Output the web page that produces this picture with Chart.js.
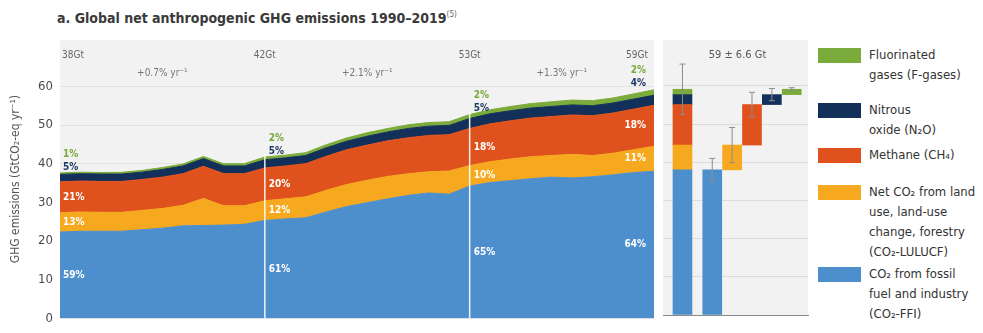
<!DOCTYPE html>
<html lang="en">
<head>
<meta charset="UTF-8" />
<title>Global net anthropogenic GHG emissions 1990–2019</title>
<script src="https://cdn.jsdelivr.net/npm/chart.js"></script>
<style>
    body {
        margin: 0;
        width: 983px;
        height: 333px;
        position: relative;
        overflow: hidden;
        background: #fff;
        font-family: "Liberation Sans Narrow", "DejaVu Sans Condensed", sans-serif;
        color: #333;
    }
    #titulo {
        position: absolute;
        left: 57px;
        top: 10px;
        font-size: 14px;
        font-weight: bold;
        color: #3a3a3a;
        white-space: nowrap;
    }
    #titulo sup { font-size: 8px; font-weight: normal; color: #666; }
    #grafico-area { position: absolute; left: 0; top: 0; }
    #grafico-barras { position: absolute; left: 660px; top: 0; }
    #legenda { position: absolute; left: 818px; top: 0; }
    .item { position: absolute; left: 0; width: 165px; }
    .amostra { position: absolute; left: 0; top: 3px; width: 43px; height: 15px; }
    .texto {
        position: absolute;
        left: 51px;
        top: 0;
        font-size: 13px;
        line-height: 20px;
        white-space: pre;
        color: #333;
    }
</style>
</head>
<body>
<div id="titulo">a. Global net anthropogenic GHG emissions 1990–2019<sup>(5)</sup></div>
<canvas id="grafico-area" width="658" height="333"></canvas>
<canvas id="grafico-barras" width="152" height="333"></canvas>
<div id="legenda"></div>

<script>
    // annual emissions, GtCO2-eq per year
    const years = [1990, 1991, 1992, 1993, 1994, 1995, 1996, 1997, 1998, 1999,
                   2000, 2001, 2002, 2003, 2004, 2005, 2006, 2007, 2008, 2009,
                   2010, 2011, 2012, 2013, 2014, 2015, 2016, 2017, 2018, 2019];
    const co2Ffi = [22.3, 22.5, 22.5, 22.5, 22.9, 23.3, 23.9, 24.0, 24.1, 24.3,
                    25.3, 25.7, 26.0, 27.5, 28.9, 29.9, 30.9, 31.8, 32.4, 32.1,
                    34.2, 35.1, 35.6, 36.1, 36.5, 36.3, 36.6, 37.1, 37.7, 38.0];
    const co2Lulucf = [5.0, 5.0, 4.9, 4.9, 5.0, 5.1, 5.3, 7.0, 5.0, 4.8,
                       5.1, 5.2, 5.4, 5.6, 5.7, 5.8, 5.8, 5.6, 5.5, 6.0,
                       5.3, 5.4, 5.6, 5.7, 5.6, 6.1, 5.5, 5.6, 5.9, 6.5];
    const ch4 = [8.0, 8.0, 8.0, 8.0, 8.0, 8.1, 8.2, 8.3, 8.3, 8.3,
                 8.5, 8.5, 8.6, 8.8, 9.0, 9.1, 9.2, 9.3, 9.4, 9.4,
                 9.6, 9.8, 9.9, 10.0, 10.1, 10.2, 10.3, 10.4, 10.5, 10.6];
    const n2o = [1.9, 1.9, 1.9, 1.9, 1.9, 2.0, 2.0, 2.0, 2.0, 2.0,
                 2.1, 2.1, 2.1, 2.2, 2.2, 2.3, 2.3, 2.4, 2.4, 2.4,
                 2.6, 2.6, 2.6, 2.6, 2.6, 2.6, 2.6, 2.6, 2.6, 2.6];
    const fGases = [0.4, 0.4, 0.4, 0.45, 0.45, 0.5, 0.5, 0.55, 0.55, 0.6,
                    0.7, 0.7, 0.75, 0.8, 0.85, 0.9, 0.9, 0.95, 0.95, 0.95,
                    1.0, 1.05, 1.1, 1.15, 1.2, 1.25, 1.3, 1.3, 1.35, 1.4];

    const yTicks = [0, 10, 20, 30, 40, 50, 60];
    const markerYears = [1990, 2000, 2010, 2019];
    const growthLabels = ['+0.7% yr⁻¹', '+2.1% yr⁻¹', '+1.3% yr⁻¹'];

    // 2019 uncertainty (90% range), same order as the gases below
    const uncert2019 = [3.0, 4.6, 3.2, 1.6, 0.41];
    const totalUncert2019 = 6.6;

    const gases = [
        { nome: 'CO₂ from fossil\nfuel and industry\n(CO₂-FFI)', dados: co2Ffi, cor: '#4d8fcc', txt: '#fff' },
        { nome: 'Net CO₂ from land\nuse, land-use\nchange, forestry\n(CO₂-LULUCF)', dados: co2Lulucf, cor: '#f6a81e', txt: '#fff' },
        { nome: 'Methane (CH₄)', dados: ch4, cor: '#e0521d', txt: '#fff' },
        { nome: 'Nitrous\noxide (N₂O)', dados: n2o, cor: '#13305a', txt: '#1d3a66' },
        { nome: 'Fluorinated\ngases (F-gases)', dados: fGases, cor: '#7bab3a', txt: '#76a83a' }
    ];

    const totais = years.map((_, i) => gases.reduce((s, g) => s + g.dados[i], 0));
    const FONTE = '"Liberation Sans Narrow", "DejaVu Sans Condensed", sans-serif';
    Chart.defaults.font.family = FONTE;

    const fundo = {
        id: 'fundo',
        beforeDraw(chart) {
            const { ctx, chartArea: a } = chart;
            ctx.save();
            ctx.fillStyle = '#f2f2f2';
            ctx.fillRect(a.left, a.top, a.right - a.left, a.bottom - a.top);
            ctx.restore();
        }
    };

    // year markers, totals, growth rates and shares
    const rotulos = {
        id: 'rotulos',
        afterDatasetsDraw(chart) {
            const { ctx, chartArea: a, scales: { x, y } } = chart;
            ctx.save();
            markerYears.slice(1, -1).forEach(ano => {
                const i = years.indexOf(ano);
                const px = x.getPixelForValue(i);
                ctx.strokeStyle = 'rgba(255,255,255,0.9)';
                ctx.lineWidth = 1.5;
                ctx.beginPath();
                ctx.moveTo(px, y.getPixelForValue(totais[i]) - 3);
                ctx.lineTo(px, a.bottom);
                ctx.stroke();
            });

            ctx.textBaseline = 'middle';
            markerYears.forEach((ano, k) => {
                const i = years.indexOf(ano);
                const px = x.getPixelForValue(i);
                const ultimo = k === markerYears.length - 1;
                const alinhar = k === 0 ? 'left' : (ultimo ? 'right' : 'center');
                ctx.font = '10px ' + FONTE;
                ctx.fillStyle = '#666';
                ctx.textAlign = alinhar;
                ctx.fillText(Math.round(totais[i]) + 'Gt', px + (k === 0 ? 2 : (ultimo ? -6 : 0)), 55);

                ctx.font = 'bold 10px ' + FONTE;
                ctx.textAlign = ultimo ? 'right' : 'left';
                const lx = px + (k === 0 ? 3 : (ultimo ? -8 : 4));
                let base = 0;
                gases.forEach((g, j) => {
                    const v = g.dados[i];
                    const pct = Math.round(v / totais[i] * 100) + '%';
                    let ly;
                    if (j < 3) {
                        ly = y.getPixelForValue(base + v / 2);
                    } else {
                        ly = y.getPixelForValue(totais[i]) - (j === 3 ? 6 : 19);
                    }
                    ctx.fillStyle = g.txt;
                    ctx.fillText(pct, lx, ly);
                    base += v;
                });
            });

            ctx.font = '10px ' + FONTE;
            ctx.fillStyle = '#777';
            ctx.textAlign = 'center';
            growthLabels.forEach((t, k) => {
                const i0 = years.indexOf(markerYears[k]);
                const i1 = years.indexOf(markerYears[k + 1]);
                const px = (x.getPixelForValue(i0) + x.getPixelForValue(i1)) / 2;
                ctx.fillText(t, px, 73);
            });
            ctx.restore();
        }
    };

    new Chart(document.getElementById('grafico-area'), {
        type: 'line',
        data: {
            labels: years,
            datasets: gases.map((g, j) => ({
                label: g.nome,
                data: g.dados,
                backgroundColor: g.cor,
                borderColor: g.cor,
                borderWidth: 1,
                pointRadius: 0,
                fill: j === 0 ? 'origin' : '-1'
            }))
        },
        options: {
            responsive: false,
            animation: false,
            layout: { padding: { top: 40, right: 4, bottom: 10, left: 0 } },
            plugins: { legend: { display: false }, tooltip: { enabled: false } },
            scales: {
                x: { display: false, offset: false },
                y: {
                    stacked: true,
                    min: 0,
                    max: 72,
                    afterBuildTicks: s => { s.ticks = yTicks.map(v => ({ value: v })); },
                    afterFit: s => { s.width = 60; },
                    grid: { color: '#e2e2e2', drawTicks: false },
                    border: { display: false },
                    ticks: { color: '#4a4a4a', font: { size: 13 }, padding: 7 },
                    title: {
                        display: true,
                        text: 'GHG emissions (GtCO₂-eq yr⁻¹)',
                        color: '#555',
                        font: { size: 12 },
                        padding: { top: 9, bottom: 0 }
                    }
                }
            }
        },
        plugins: [fundo, rotulos]
    });

    // 2019 breakdown: stacked total, then each gas as a floating step
    const ult = years.length - 1;
    const total2019 = totais[ult];
    const posicao = k => (k === 0 ? 0 : k + 0.5);
    let acumulado = 0;
    const passos = gases.map(g => {
        const de = acumulado;
        acumulado += g.dados[ult];
        return [de, acumulado];
    });

    const barrasErro = {
        id: 'barrasErro',
        afterDatasetsDraw(chart) {
            const { ctx, chartArea: a, scales: { x, y } } = chart;
            const whisker = (cx, v, e) => {
                const y0 = y.getPixelForValue(v - e), y1 = y.getPixelForValue(v + e);
                ctx.beginPath();
                ctx.moveTo(cx, y0); ctx.lineTo(cx, y1);
                ctx.moveTo(cx - 3, y0); ctx.lineTo(cx + 3, y0);
                ctx.moveTo(cx - 3, y1); ctx.lineTo(cx + 3, y1);
                ctx.stroke();
            };
            ctx.save();
            ctx.strokeStyle = '#8c8c8c';
            ctx.lineWidth = 1;
            whisker(x.getPixelForValue(0), total2019, totalUncert2019);
            passos.forEach((p, k) => whisker(x.getPixelForValue(posicao(k + 1)), p[1], uncert2019[k]));

            ctx.font = '11px ' + FONTE;
            ctx.fillStyle = '#555';
            ctx.textAlign = 'center';
            ctx.textBaseline = 'middle';
            ctx.fillText(Math.round(total2019) + ' ± ' + totalUncert2019 + ' Gt', (a.left + a.right) / 2 + 2, 55);
            ctx.restore();
        }
    };

    new Chart(document.getElementById('grafico-barras'), {
        type: 'bar',
        data: {
            datasets: gases.map((g, k) => ({
                label: g.nome,
                data: [
                    { x: posicao(0), y: passos[k] },
                    { x: posicao(k + 1), y: passos[k] }
                ],
                backgroundColor: g.cor,
                grouped: false,
                barThickness: 19
            }))
        },
        options: {
            responsive: false,
            animation: false,
            layout: { padding: { top: 40, right: 4, bottom: 10, left: 3 } },
            plugins: { legend: { display: false }, tooltip: { enabled: false } },
            scales: {
                x: {
                    type: 'linear',
                    offset: false,
                    min: -0.98,
                    max: 6.32,
                    ticks: { display: false, stepSize: 1 },
                    grid: { display: false },
                    border: { color: '#8a8a8a' }
                },
                y: {
                    min: 0,
                    max: 72,
                    afterBuildTicks: s => { s.ticks = yTicks.map(v => ({ value: v })); },
                    afterFit: s => { s.width = 0; },
                    ticks: { display: false },
                    grid: { color: '#dcdcdc', drawTicks: false },
                    border: { display: false }
                }
            }
        },
        plugins: [fundo, barrasErro]
    });

    // legend, top to bottom from F-gases down to CO2-FFI
    const legendaTopo = [48, 103, 148, 185, 267];
    const legenda = document.getElementById('legenda');
    gases.slice().reverse().forEach((g, k) => {
        const item = document.createElement('div');
        item.className = 'item';
        item.style.top = (legendaTopo[k] - 3) + 'px';
        item.innerHTML = '<div class="amostra" style="background:' + g.cor + '"></div>';
        const texto = document.createElement('div');
        texto.className = 'texto';
        texto.textContent = g.nome;
        item.appendChild(texto);
        legenda.appendChild(item);
    });
</script>
</body>
</html>
